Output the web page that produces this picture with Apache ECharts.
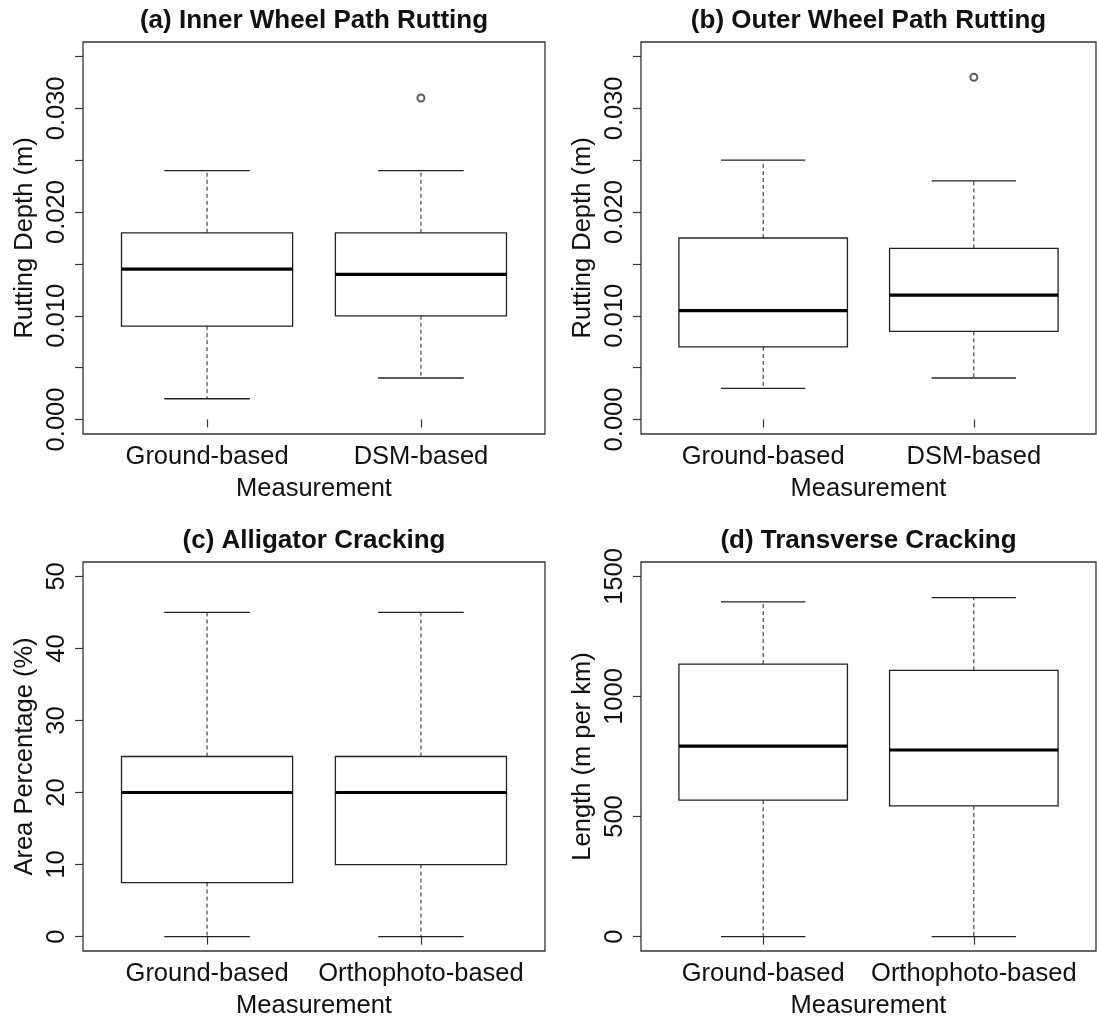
<!DOCTYPE html>
<html>
<head>
<meta charset="utf-8">
<script src="https://cdn.jsdelivr.net/npm/echarts@6/dist/echarts.min.js"></script>
<style>
html, body { margin: 0; padding: 0; background: #fff; }
#main { width: 1097px; height: 1020px; }
</style>
</head>
<body>
<div id="main"></div>
<script>
var groupsRut = ['Ground-based', 'DSM-based'];
var groupsCrack = ['Ground-based', 'Orthophoto-based'];

// [min, Q1, median, Q3, max] for each group
var innerStats = [[0.002, 0.009, 0.0145, 0.018, 0.024], [0.004, 0.010, 0.014, 0.018, 0.024]];
var outerStats = [[0.003, 0.007, 0.0105, 0.0175, 0.025], [0.004, 0.0085, 0.012, 0.0165, 0.023]];
var alligatorStats = [[0, 7.5, 20, 25, 45], [0, 10, 20, 25, 45]];
var transverseStats = [[0, 568, 793, 1135, 1394], [0, 544, 777, 1109, 1412]];

// [group position, value]
var innerOutliers = [[2, 0.031]];
var outerOutliers = [[2, 0.033]];

var rutTicks = [0, 0.005, 0.01, 0.015, 0.02, 0.025, 0.03, 0.035];
var rutLabels = [0, 0.01, 0.02, 0.03];
var alligatorTicks = [0, 10, 20, 30, 40, 50];
var transverseTicks = [0, 500, 1000, 1500];

var FONT = '"Liberation Sans", Arial, sans-serif';
var INK = '#222';

var panels = [
    {title: '(a) Inner Wheel Path Rutting', yName: 'Rutting Depth (m)', groups: groupsRut,
     stats: innerStats, outliers: innerOutliers, ticks: rutTicks, labels: rutLabels,
     ymin: -0.0014, ymax: 0.0364, digits: 3, left: 83, top: 42, width: 462, height: 392},
    {title: '(b) Outer Wheel Path Rutting', yName: 'Rutting Depth (m)', groups: groupsRut,
     stats: outerStats, outliers: outerOutliers, ticks: rutTicks, labels: rutLabels,
     ymin: -0.0014, ymax: 0.0364, digits: 3, left: 641, top: 42, width: 455, height: 392},
    {title: '(c) Alligator Cracking', yName: 'Area Percentage (%)', groups: groupsCrack,
     stats: alligatorStats, outliers: [], ticks: alligatorTicks, labels: alligatorTicks,
     ymin: -2, ymax: 52, digits: 0, left: 83, top: 562, width: 462, height: 393},
    {title: '(d) Transverse Cracking', yName: 'Length (m per km)', groups: groupsCrack,
     stats: transverseStats, outliers: [], ticks: transverseTicks, labels: transverseTicks,
     ymin: -60, ymax: 1560, digits: 0, left: 641, top: 562, width: 455, height: 393}
];

function renderBox(params, api) {
    var x = api.value(0);
    var lo = api.coord([x, api.value(1)]);
    var q1 = api.coord([x, api.value(2)]);
    var md = api.coord([x, api.value(3)]);
    var q3 = api.coord([x, api.value(4)]);
    var hi = api.coord([x, api.value(5)]);
    var half = api.size([0.4, 0])[0];
    var cap = half / 2;
    var cx = lo[0];
    var dashed = {stroke: INK, lineWidth: 1, lineDash: [4, 3]};
    var solid = {stroke: INK, lineWidth: 1.3};
    return {
        type: 'group',
        children: [
            {type: 'line', shape: {x1: cx, y1: q3[1], x2: cx, y2: hi[1]}, style: dashed},
            {type: 'line', shape: {x1: cx, y1: q1[1], x2: cx, y2: lo[1]}, style: dashed},
            {type: 'line', shape: {x1: cx - cap, y1: hi[1], x2: cx + cap, y2: hi[1]}, style: solid},
            {type: 'line', shape: {x1: cx - cap, y1: lo[1], x2: cx + cap, y2: lo[1]}, style: solid},
            {type: 'rect', shape: {x: cx - half, y: q3[1], width: half * 2, height: q1[1] - q3[1]},
             style: {fill: '#fff', stroke: INK, lineWidth: 1.3}},
            {type: 'line', shape: {x1: cx - half, y1: md[1], x2: cx + half, y2: md[1]},
             style: {stroke: '#000', lineWidth: 3.2}}
        ]
    };
}

var option = {
    animation: false,
    backgroundColor: '#fff',
    textStyle: {fontFamily: FONT},
    title: [],
    grid: [],
    xAxis: [],
    yAxis: [],
    series: []
};

panels.forEach(function (p, i) {
    option.title.push({
        text: p.title,
        left: p.left + p.width / 2,
        top: p.top - 34,
        textAlign: 'center',
        padding: 0,
        textStyle: {fontFamily: FONT, fontSize: 26, fontWeight: 'bold', color: '#111'}
    });
    option.grid.push({
        left: p.left, top: p.top, width: p.width, height: p.height,
        show: true, borderColor: '#333', borderWidth: 1.3, backgroundColor: 'transparent'
    });
    option.xAxis.push({
        type: 'value', gridIndex: i, min: 0.42, max: 2.58,
        name: 'Measurement', nameLocation: 'middle', nameGap: 42,
        nameTextStyle: {fontFamily: FONT, fontSize: 25.5, color: '#111'},
        axisLine: {show: false},
        splitLine: {show: false},
        axisTick: {show: true, inside: false, length: 8, customValues: [1, 2],
                   lineStyle: {color: '#333', width: 1.2}},
        axisLabel: {customValues: [1, 2], margin: 10, fontFamily: FONT, fontSize: 25.5, color: '#111',
                    formatter: function (v) { return p.groups[Math.round(v) - 1]; }}
    });
    option.yAxis.push({
        type: 'value', gridIndex: i, min: p.ymin, max: p.ymax,
        name: p.yName, nameLocation: 'middle', nameGap: 45,
        nameTextStyle: {fontFamily: FONT, fontSize: 25.5, color: '#111'},
        axisLine: {show: false},
        splitLine: {show: false},
        axisTick: {show: true, inside: false, length: 8, customValues: p.ticks,
                   lineStyle: {color: '#333', width: 1.2}},
        axisLabel: {customValues: p.labels, rotate: 90, margin: 13, fontFamily: FONT, fontSize: 25.5,
                    color: '#111', formatter: function (v) { return v.toFixed(p.digits); }}
    });
    option.series.push({
        type: 'custom', xAxisIndex: i, yAxisIndex: i,
        renderItem: renderBox,
        encode: {x: 0, y: [1, 2, 3, 4, 5]},
        data: p.stats.map(function (s, k) { return [k + 1].concat(s); })
    });
    if (p.outliers.length) {
        option.series.push({
            type: 'scatter', xAxisIndex: i, yAxisIndex: i,
            symbol: 'emptyCircle', symbolSize: 7,
            itemStyle: {color: '#333', borderWidth: 1},
            data: p.outliers
        });
    }
});

var chart = echarts.init(document.getElementById('main'));
chart.setOption(option);
</script>
</body>
</html>
